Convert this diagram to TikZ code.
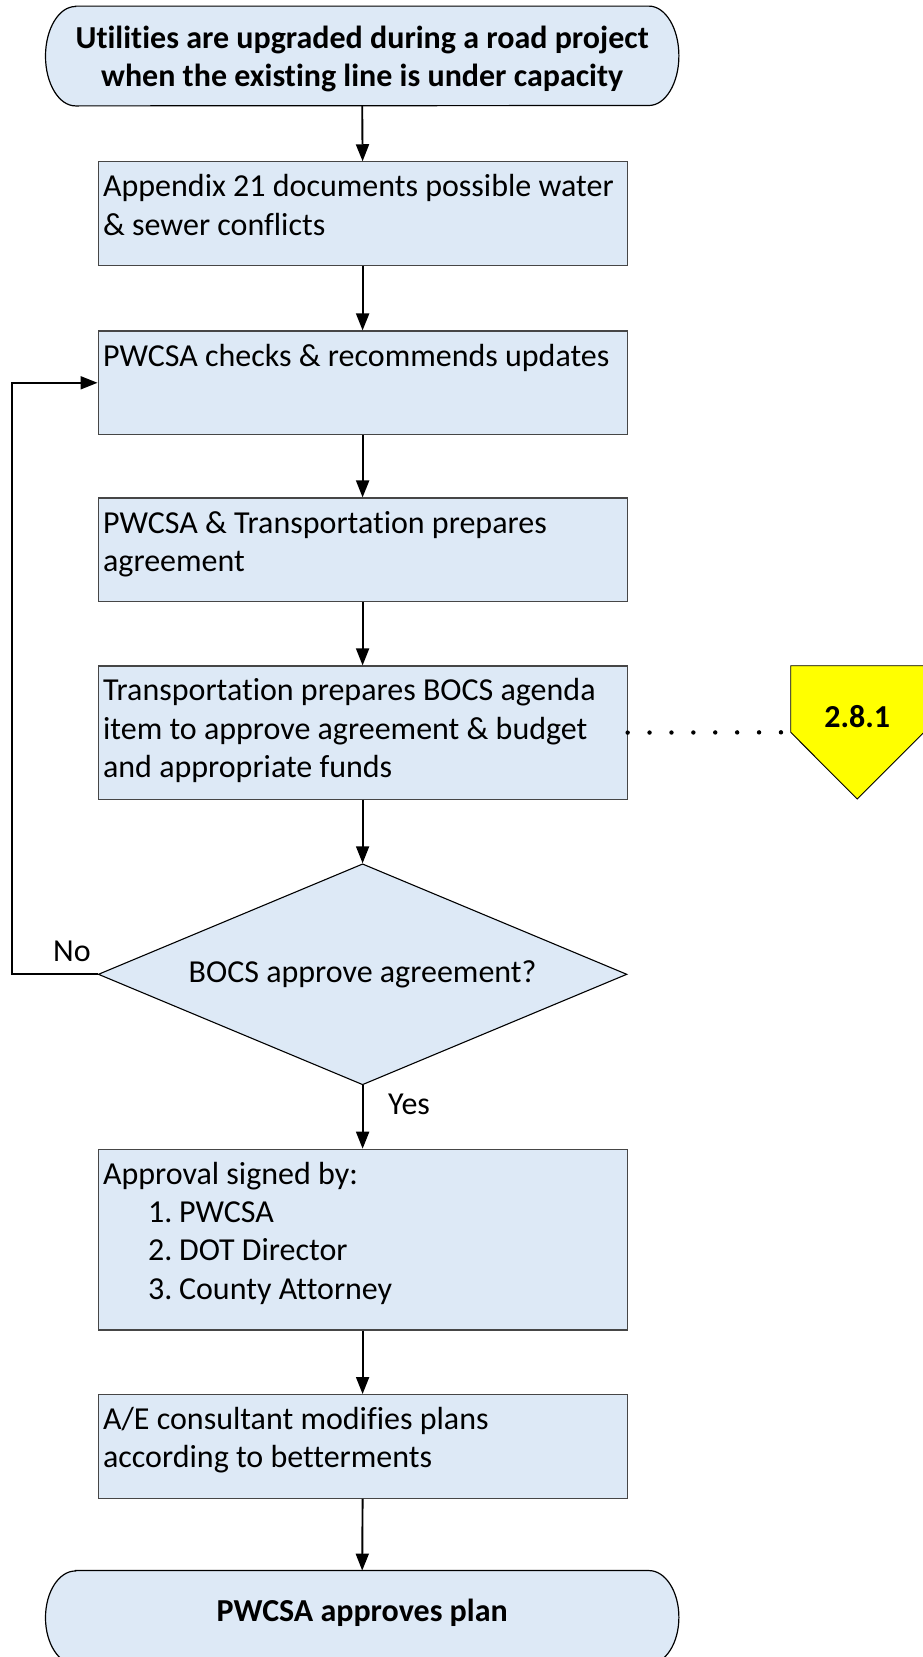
\documentclass[tikz,border=0pt]{standalone}
\usepackage{fontspec}
\setmainfont{Carlito}[Ligatures=NoCommon]
\usetikzlibrary{arrows.meta,shapes.geometric,calc}
\pgfdeclarelayer{background}
\pgfsetlayers{background,main}

\definecolor{boxfill}{RGB}{221,233,246}
\definecolor{boxline}{RGB}{70,70,70}
\definecolor{pageyellow}{RGB}{255,255,0}

\newcommand{\chartfont}{\fontsize{32}{38.3}\selectfont}
% top-aligned text block of a fixed height inside a process box
\newcommand{\stepbody}[2]{\parbox[c][#1][t]{519pt}{\raggedright\rule{0pt}{35pt}#2}}
% indented numbered line
\newcommand{\listline}[2]{\hspace*{45pt}\makebox[31pt][l]{#1}#2}

\begin{document}
\begin{tikzpicture}[x=1pt,y=1pt,
  every node/.style={font=\chartfont},
  stepbox/.style={rectangle, draw=boxline, line width=1.1pt, fill=boxfill,
    minimum width=528.7, inner xsep=5pt, inner ysep=0pt},
  termtext/.style={rectangle, minimum width=633, inner sep=0pt, align=center},
  terminal/.style={draw=black, line width=1.2pt, fill=boxfill},
  decision/.style={diamond, draw=black, line width=1.1pt, fill=boxfill,
    minimum width=528.7, minimum height=221, inner sep=0pt, shape aspect=2.39},
  offpage/.style={draw=black, line width=0.9pt, fill=pageyellow},
  conn/.style={line width=1.9pt, -{Triangle[length=17pt,width=13pt]}},
  dotline/.style={line width=4.4pt, line cap=round, dash pattern=on 0pt off 21.9pt},
  lbl/.style={inner sep=0pt}
]
\useasboundingbox (0,0) rectangle (923,-1657);

% terminators
\node[termtext, minimum height=99.4] (start) at (362.2,-59)
  {\bfseries Utilities are upgraded during a road project\\ \bfseries when the existing line is under capacity};
\node[termtext, minimum height=93.5] (finish) at (362.2,-1613)
  {\bfseries PWCSA approves plan};

% process steps
\node[stepbox] (b1) at (362.6,-213.6)
  {\stepbody{103.6pt}{Appendix 21 documents possible water\\ \& sewer conflicts}};
\node[stepbox] (b2) at (362.6,-382.8)
  {\stepbody{103.6pt}{PWCSA checks \& recommends updates}};
\node[stepbox] (b3) at (362.6,-549.8)
  {\stepbody{103.6pt}{PWCSA \& Transportation prepares\\ agreement}};
\node[stepbox] (b4) at (362.6,-732.6)
  {\stepbody{133.3pt}{Transportation prepares BOCS agenda\\ item to approve agreement \& budget\\ and appropriate funds}};
\node[decision] (dec) at (362.6,-974.3) {BOCS approve agreement?};
\node[stepbox] (b5) at (362.6,-1239.6)
  {\stepbody{180.7pt}{Approval signed by:\\ \listline{1.}{PWCSA}\\ \listline{2.}{DOT Director}\\ \listline{3.}{County Attorney}}};
\node[stepbox] (b6) at (362.6,-1446.4)
  {\stepbody{103.6pt}{A/E consultant modifies plans\\ according to betterments}};

% off-page reference
\node[lbl, font=\chartfont\bfseries] (opc) at (857.3,-717) {2.8.1};
\coordinate (opcw) at ($(opc)+(-66.6,-15.3)$);

% outlines drawn behind the texts
\begin{pgfonlayer}{background}
  \path[terminal] ($(start.north west)+(30,3)$) -- ($(start.north east)+(-30,3)$)
    arc[start angle=90, end angle=-90, x radius=30, y radius=49.7]
    -- ($(start.south west)+(30,3)$)
    arc[start angle=270, end angle=90, x radius=30, y radius=49.7] -- cycle;
  \path[terminal] ($(finish.north west)+(30,-4.5)$) -- ($(finish.north east)+(-30,-4.5)$)
    arc[start angle=90, end angle=-90, x radius=30, y radius=46.75]
    -- ($(finish.south west)+(30,-4.5)$)
    arc[start angle=270, end angle=90, x radius=30, y radius=46.75] -- cycle;
  \path[offpage] ($(opc)+(-66.6,51.3)$) -- ($(opc)+(66.6,51.3)$)
    -- ($(opc)+(66.6,-15.3)$) -- ($(opc)+(0,-82)$) -- (opcw) -- cycle;
\end{pgfonlayer}

% connectors
\draw[conn] ($(start.south)+(0,3)$) -- (b1.north);
\draw[conn] (b1.south) -- (b2.north);
\draw[conn] (b2.south) -- (b3.north);
\draw[conn] (b3.south) -- (b4.north);
\draw[conn] (b4.south) -- (dec.north);
\draw[conn] (dec.south) -- (b5.north);
\draw[conn] (b5.south) -- (b6.north);
\draw[conn] (b6.south) -- ($(finish.north)+(0,-4.5)$);

% "No" branch back to the review step
\coordinate (loopx) at (12.3,0);
\draw[conn] (dec.west) -- (dec.west -| loopx) -- (b2.west -| loopx) -- (b2.west);

% reference link
\draw[dotline] (b4.east) -- (opcw);

% branch labels
\node[lbl, anchor=base] (no) at (72,-961.7) {No};
\node[lbl, anchor=base west] (yes) at (388,-1114.5) {Yes};
\end{tikzpicture}
\end{document}
